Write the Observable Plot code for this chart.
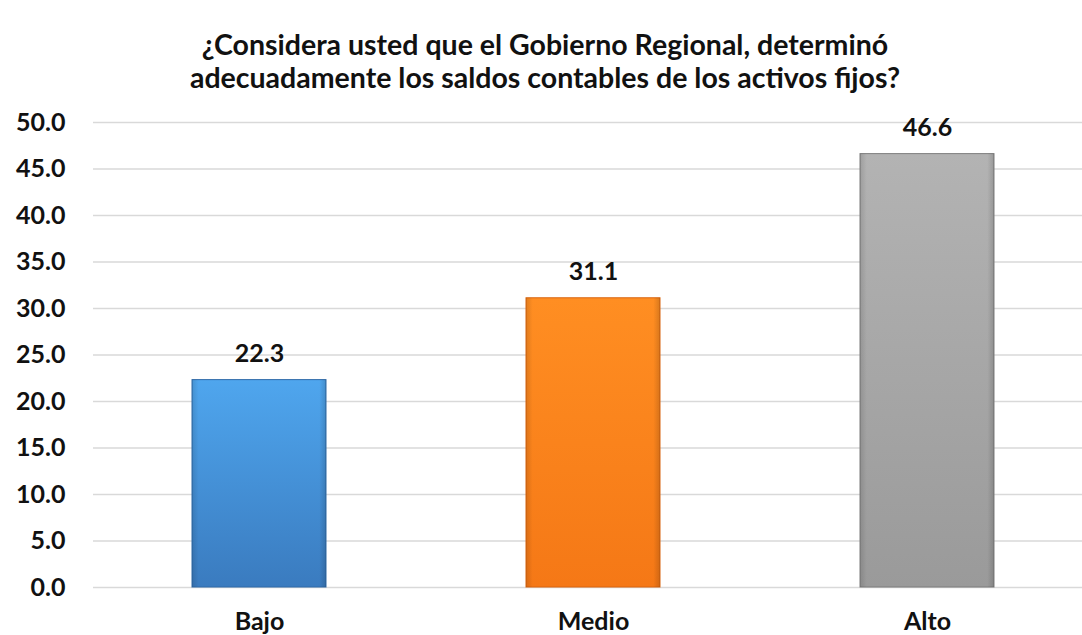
<!DOCTYPE html>
<html>
<head>
<meta charset="utf-8">
<script src="https://cdn.jsdelivr.net/npm/d3@7"></script>
<script src="https://cdn.jsdelivr.net/npm/@observablehq/plot@0.6"></script>
<style>
  html, body { margin: 0; padding: 0; background: #fff; }
  #title { width: 1082px; height: 100px; box-sizing: border-box; padding-top: 28px; text-align: center;
    font-family: Lato, "Open Sans", sans-serif; font-weight: bold; font-size: 28.5px; line-height: 33px; color: #111; padding-left: 8px; }
</style>
</head>
<body>
<div id="title">¿Considera usted que el Gobierno Regional, determinó<br>adecuadamente los saldos contables de los activos fijos?</div>
<div id="chart"></div>
<script>
const categories = ["Bajo", "Medio", "Alto"];
const values = [22.3, 31.1, 46.6];
const yTicks = [0, 5, 10, 15, 20, 25, 30, 35, 40, 45, 50];
const gradients = [
  ["#4fa6ee", "#3a7bbf", "#2f6aa8"],
  ["#ff8e22", "#f57816", "#d9650f"],
  ["#b3b3b3", "#9a9a9a", "#7d7d7d"]
];

const data = categories.map((c, i) => ({cat: c, value: values[i]}));

const svg = Plot.plot({
  width: 1082,
  height: 535,
  marginLeft: 93,
  marginRight: 0,
  marginTop: 22,
  marginBottom: 48,
  style: {fontFamily: "Lato, 'Open Sans', sans-serif", fontWeight: "bold", fontSize: "25px", color: "#111", background: "#fff"},
  x: {domain: categories, range: [92, 1094], paddingInner: 0.6, paddingOuter: 0.3, label: null, tickSize: 0, tickPadding: 25},
  y: {domain: [0, 50], ticks: yTicks, tickFormat: d => d.toFixed(1), label: null, tickSize: 0, tickPadding: 28},
  marks: [
    Plot.ruleY(yTicks, {stroke: "#d9d9d9", strokeWidth: 1.5}),
    ...categories.map((c, i) => Plot.barY(data.filter(d => d.cat === c), {
      x: "cat", y: "value", fill: `url(#grad${i})`, stroke: gradients[i][2], strokeWidth: 1
    })),
    ...categories.map((c, i) => Plot.barY(data.filter(d => d.cat === c), {
      x: "cat", y: "value", fill: "url(#shade)"
    })),
    Plot.text(data, {x: "cat", y: "value", text: d => d.value.toFixed(1), dy: -26, fontSize: 25, fontWeight: "bold", fill: "#111"})
  ]
});

const defs = d3.select(svg).insert("defs", ":first-child");
gradients.forEach((g, i) => {
  const lg = defs.append("linearGradient").attr("id", `grad${i}`).attr("x1", 0).attr("y1", 0).attr("x2", 0).attr("y2", 1);
  lg.append("stop").attr("offset", "0%").attr("stop-color", g[0]);
  lg.append("stop").attr("offset", "100%").attr("stop-color", g[1]);
});
const sh = defs.append("linearGradient").attr("id", "shade").attr("x1", 0).attr("y1", 0).attr("x2", 1).attr("y2", 0);
sh.append("stop").attr("offset", "0%").attr("stop-color", "#000").attr("stop-opacity", 0.12);
sh.append("stop").attr("offset", "5%").attr("stop-color", "#000").attr("stop-opacity", 0);
sh.append("stop").attr("offset", "95%").attr("stop-color", "#000").attr("stop-opacity", 0);
sh.append("stop").attr("offset", "100%").attr("stop-color", "#000").attr("stop-opacity", 0.15);

document.getElementById("chart").appendChild(svg);
</script>
</body>
</html>
